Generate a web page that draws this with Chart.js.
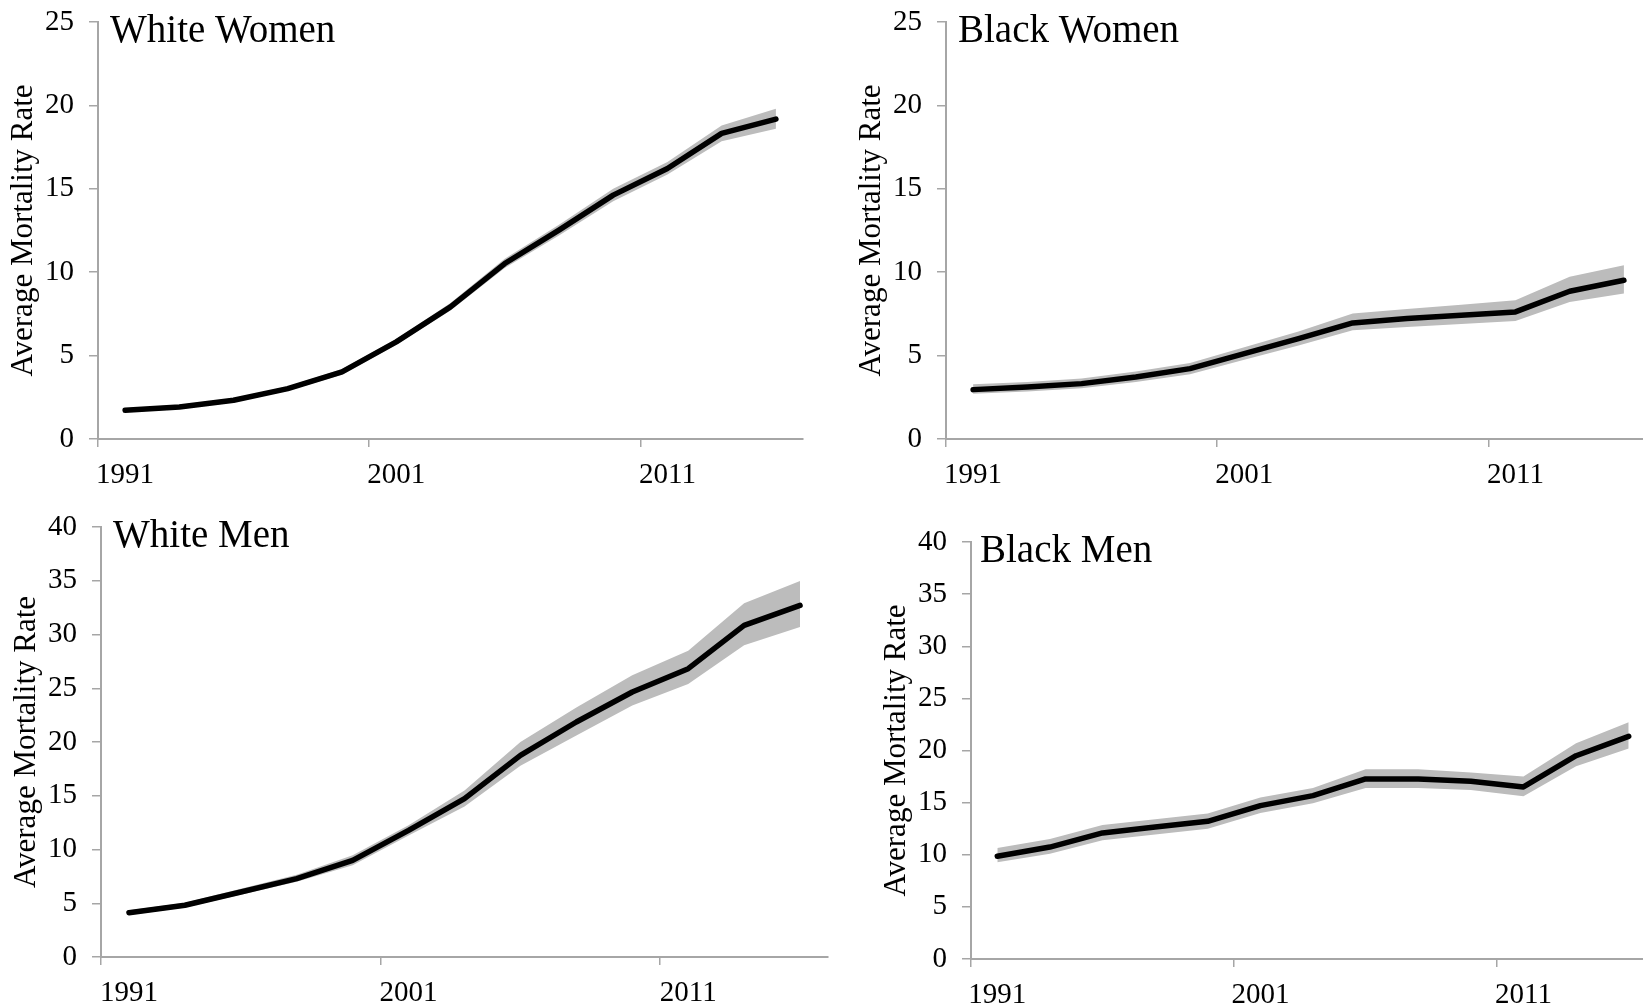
<!DOCTYPE html>
<html>
<head>
<meta charset="utf-8">
<script src="https://cdn.jsdelivr.net/npm/chart.js@4.4.0/dist/chart.umd.min.js"></script>
<style>
    html, body { margin: 0; padding: 0; background: #fff; }
    body { width: 1643px; height: 1008px; position: relative; overflow: hidden; }
    canvas { position: absolute; }
</style>
</head>
<body>
<canvas id="whiteWomen"></canvas>
<canvas id="blackWomen"></canvas>
<canvas id="whiteMen"></canvas>
<canvas id="blackMen"></canvas>
<script>
// years of each point
const years = [1992, 1994, 1996, 1998, 2000, 2002, 2004, 2006, 2008, 2010, 2012, 2014, 2016];
const xTicks = [1991, 2001, 2011];

// White Women
const whiteWomenMid = [1.72, 1.92, 2.32, 3.02, 4.02, 5.82, 7.92, 10.52, 12.52, 14.62, 16.22, 18.32, 19.18];
const whiteWomenHi  = [1.85, 2.05, 2.45, 3.15, 4.20, 6.00, 8.15, 10.80, 12.85, 15.00, 16.60, 18.80, 19.80];
const whiteWomenLo  = [1.60, 1.80, 2.20, 2.90, 3.85, 5.65, 7.70, 10.25, 12.20, 14.25, 15.85, 17.85, 18.60];

// Black Women
const blackWomenMid = [2.96, 3.12, 3.32, 3.72, 4.22, 5.12, 6.02, 6.96, 7.22, 7.42, 7.62, 8.86, 9.52];
const blackWomenHi  = [3.28, 3.42, 3.62, 4.05, 4.55, 5.50, 6.45, 7.52, 7.80, 8.05, 8.32, 9.72, 10.42];
const blackWomenLo  = [2.72, 2.85, 3.05, 3.42, 3.88, 4.75, 5.60, 6.52, 6.72, 6.90, 7.08, 8.22, 8.72];

// White Men
const whiteMenMid = [4.12, 4.81, 6.05, 7.29, 8.99, 11.78, 14.73, 18.76, 21.86, 24.65, 26.82, 30.85, 32.71];
const whiteMenHi  = [4.35, 5.05, 6.35, 7.65, 9.46, 12.25, 15.50, 20.00, 23.20, 26.20, 28.50, 32.90, 34.98];
const whiteMenLo  = [3.90, 4.60, 5.80, 7.00, 8.53, 11.30, 14.00, 17.80, 20.60, 23.40, 25.40, 29.00, 30.70];

// Black Men
const blackMenMid = [9.85, 10.74, 12.09, 12.66, 13.21, 14.71, 15.67, 17.27, 17.27, 17.04, 16.50, 19.50, 21.36];
const blackMenHi  = [10.65, 11.50, 12.85, 13.40, 13.95, 15.50, 16.40, 18.20, 18.20, 17.90, 17.50, 20.70, 22.70];
const blackMenLo  = [9.27, 10.10, 11.40, 11.95, 12.50, 14.00, 14.95, 16.40, 16.40, 16.20, 15.60, 18.50, 20.20];

const AXIS_W = 100;   // room for y labels + title
const AXIS_H = 60;    // room for x labels
const PAD_TOP = 40;   // must be more than the padding chart.js wants for the top y label
const PAD_RIGHT = 10;
const axisColor = "#a6a6a6";
const serif = "'Liberation Serif', 'Times New Roman', serif";

// draws the panel name inside the plot, top-left
const panelTitle = {
    id: "panelTitle",
    afterDraw(chart, args, opts) {
        const { ctx, chartArea } = chart;
        ctx.save();
        ctx.font = "39px " + serif;
        ctx.fillStyle = "#000";
        ctx.textBaseline = "alphabetic";
        ctx.fillText(opts.text, chartArea.left + opts.dx, chartArea.top + opts.dy);
        ctx.restore();
    }
};

function toPoints(vals) {
    return years.map((y, i) => ({ x: y, y: vals[i] }));
}

function makePanel(id, title, mid, hi, lo, yMax, area, dx, dy) {
    const canvas = document.getElementById(id);
    const w = AXIS_W + (area.right - area.left) + PAD_RIGHT;
    const h = PAD_TOP + (area.bottom - area.top) + AXIS_H;
    canvas.width = w;
    canvas.height = h;
    canvas.style.width = w + "px";
    canvas.style.height = h + "px";
    canvas.style.left = (area.left - AXIS_W) + "px";
    canvas.style.top = (area.top - PAD_TOP) + "px";

    const yearPx = (area.right - area.left) / 26;

    new Chart(canvas.getContext("2d"), {
        type: "line",
        data: {
            datasets: [
                {
                    label: title,
                    data: toPoints(mid),
                    borderColor: "#000",
                    borderWidth: 5.5,
                    borderCapStyle: "round",
                    borderJoinStyle: "round",
                    pointRadius: 0,
                    fill: false,
                    tension: 0
                },
                {
                    label: "upper",
                    data: toPoints(hi),
                    borderWidth: 0,
                    borderColor: "rgba(0,0,0,0)",
                    backgroundColor: "#bcbcbc",
                    pointRadius: 0,
                    fill: "+1",
                    tension: 0
                },
                {
                    label: "lower",
                    data: toPoints(lo),
                    borderWidth: 0,
                    borderColor: "rgba(0,0,0,0)",
                    pointRadius: 0,
                    fill: false,
                    tension: 0
                }
            ]
        },
        options: {
            responsive: false,
            devicePixelRatio: 1,
            animation: false,
            layout: { padding: { top: PAD_TOP, right: PAD_RIGHT, left: 0, bottom: 0 } },
            plugins: {
                legend: { display: false },
                tooltip: { enabled: false },
                panelTitle: { text: title, dx: dx, dy: dy }
            },
            scales: {
                x: {
                    type: "linear",
                    min: 1991,
                    max: 2017,
                    afterBuildTicks: scale => { scale.ticks = xTicks.map(v => ({ value: v })); },
                    afterFit: scale => { scale.height = AXIS_H; },
                    grid: { drawOnChartArea: false, tickLength: 8, color: axisColor, lineWidth: 1.5 },
                    border: { color: axisColor, width: 2 },
                    ticks: {
                        color: "#000",
                        font: { family: serif, size: 29 },
                        padding: 11,
                        labelOffset: yearPx,
                        maxRotation: 0,
                        callback: v => String(v)
                    }
                },
                y: {
                    min: 0,
                    max: yMax,
                    afterFit: scale => { scale.width = AXIS_W; },
                    grid: { drawOnChartArea: false, tickLength: 9, color: axisColor, lineWidth: 1.5 },
                    border: { color: axisColor, width: 2 },
                    ticks: {
                        stepSize: 5,
                        color: "#000",
                        font: { family: serif, size: 29 },
                        padding: 15
                    },
                    title: {
                        display: true,
                        text: "Average Mortality Rate",
                        color: "#000",
                        font: { family: serif, size: 31 },
                        padding: { top: 7, bottom: 0 }
                    }
                }
            }
        },
        plugins: [panelTitle]
    });
}

document.addEventListener("DOMContentLoaded", () => {
    makePanel("whiteWomen", "White Women", whiteWomenMid, whiteWomenHi, whiteWomenLo, 25,
        { left: 98, top: 22, right: 803, bottom: 439 }, 12, 20);
    makePanel("blackWomen", "Black Women", blackWomenMid, blackWomenHi, blackWomenLo, 25,
        { left: 946, top: 22, right: 1651, bottom: 439 }, 12, 20);
    makePanel("whiteMen", "White Men", whiteMenMid, whiteMenHi, whiteMenLo, 40,
        { left: 101, top: 527, right: 828, bottom: 957 }, 12, 20);
    makePanel("blackMen", "Black Men", blackMenMid, blackMenHi, blackMenLo, 40,
        { left: 971, top: 542, right: 1655, bottom: 959 }, 9, 20);
});
</script>
</body>
</html>
